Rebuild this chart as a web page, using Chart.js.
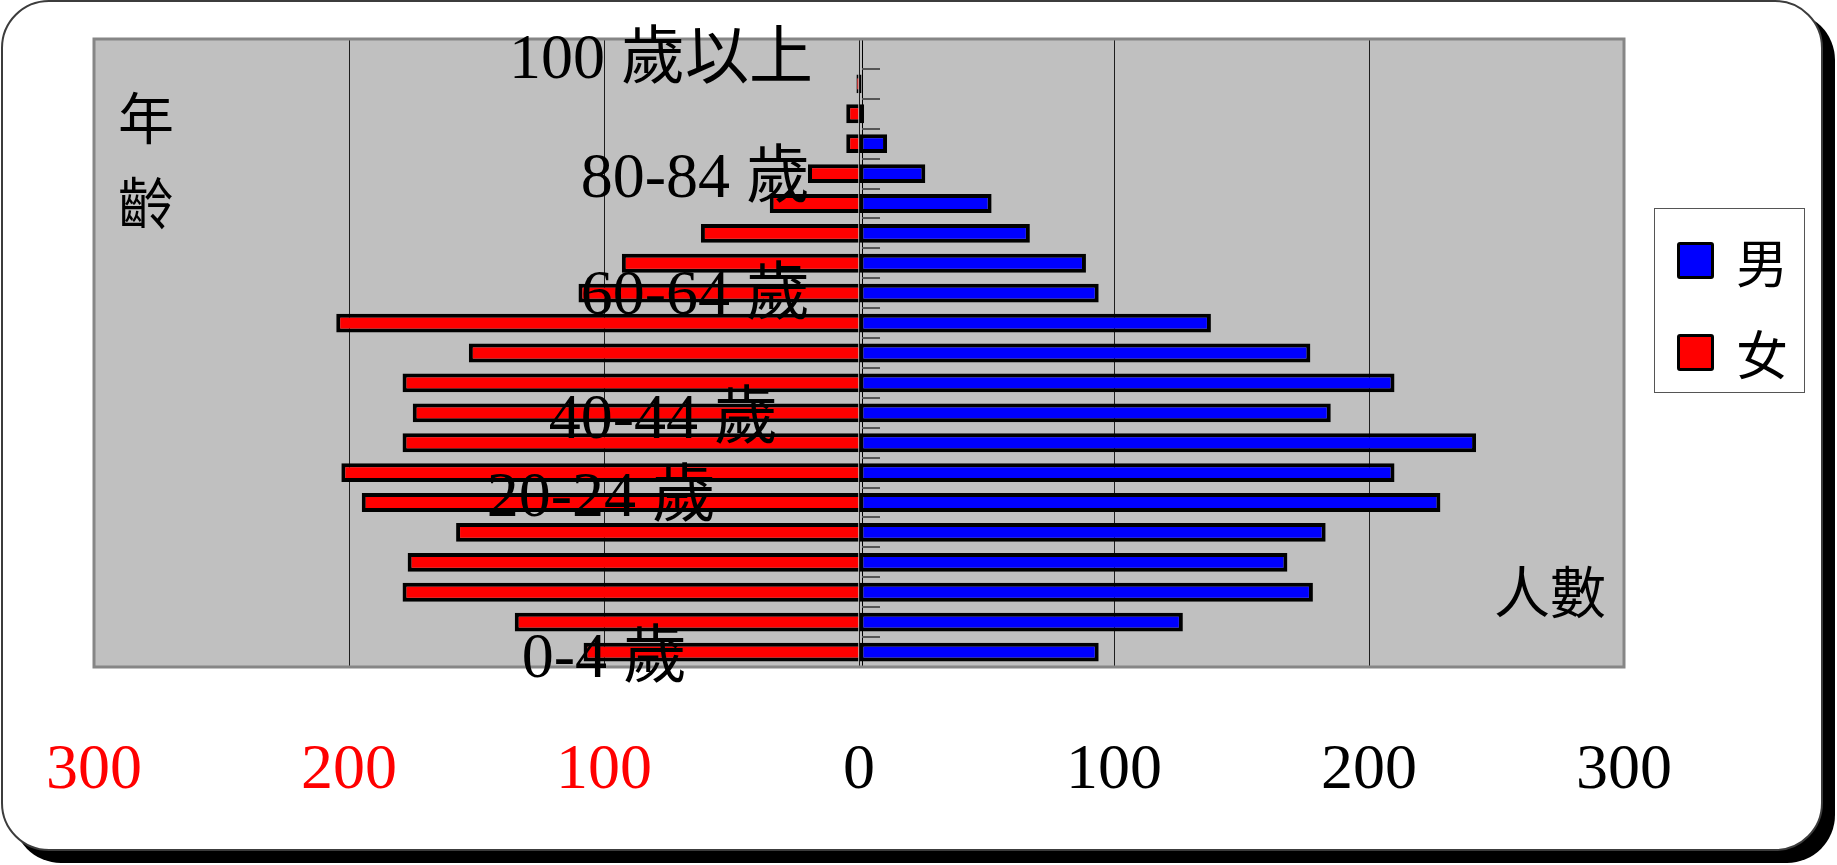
<!DOCTYPE html>
<html lang="zh-Hant">
<head>
<meta charset="utf-8">
<title>人口金字塔</title>
<script src="https://cdn.jsdelivr.net/npm/chart.js@4/dist/chart.umd.min.js"></script>
<style>
  html, body { margin: 0; padding: 0; background: #fff; }
  #stage { position: relative; width: 1837px; height: 865px; overflow: hidden; }
  #frame {
    position: absolute; left: 1px; top: 0; width: 1822px; height: 851px;
    box-sizing: border-box; border: 2px solid #3c3c3c; border-radius: 48px;
    box-shadow: 12px 12px 0 #000; background: #fff;
  }
  #chart { position: absolute; left: 0; top: 0; }
  .cjk { position: absolute; color: #000; font-family: "Noto Sans CJK TC", "Noto Sans CJK SC", sans-serif; }
  #ageTitle { left: 114px; top: 72px; width: 64px; font-size: 56px; line-height: 85px; text-align: center; }
  #countTitle { left: 1494px; top: 559px; font-size: 56px; line-height: 60px; white-space: nowrap; }
  #legend {
    left: 1654px; top: 208px; width: 151px; height: 185px; box-sizing: border-box;
    border: 1.5px solid #555; background: #fff; padding-top: 33px;
  }
  #legend .item { display: flex; align-items: center; height: 37px; margin-bottom: 55px; }
  #legend .swatch { width: 37px; height: 37px; margin-left: 22px; box-sizing: border-box; border: 3px solid #000; border-radius: 3px; }
  #legend .name { margin-left: 22px; font-size: 52px; line-height: 37px; }
</style>
</head>
<body>
<div id="stage">
  <div id="frame"></div>
  <canvas id="chart" width="1837" height="865"></canvas>
  <div id="ageTitle" class="cjk">年<br>齡</div>
  <div id="countTitle" class="cjk">人數</div>
  <div id="legend" class="cjk"></div>
</div>
<script>
// Age groups, youngest first (drawn bottom to top)
const ageGroups = [
  '0-4 歲', '5-9 歲', '10-14 歲', '15-19 歲', '20-24 歲', '25-29 歲', '30-34 歲',
  '35-39 歲', '40-44 歲', '45-49 歲', '50-54 歲', '55-59 歲', '60-64 歲', '65-69 歲',
  '70-74 歲', '75-79 歲', '80-84 歲', '85-89 歲', '90-94 歲', '95-99 歲', '100 歲以上'
];

// Population per age group
const maleCounts   = [94, 127, 178, 168, 183, 228, 210, 242, 185, 210, 177, 138, 94, 89, 67, 52, 26, 11, 2, 1, 0];
const femaleCounts = [108, 135, 179, 177, 158, 195, 203, 179, 175, 179, 153, 205, 110, 93, 62, 35, 20, 5, 5, 1, 0];

// Count axis ticks (left side = female, shown as absolute values)
const countTicks = [-300, -200, -100, 0, 100, 200, 300];

// Age groups that carry a label on the chart
const labelledGroups = [20, 16, 12, 8, 4, 0];

const seriesNames = ['男', '女'];
const seriesColors = ['#0000ff', '#ff0000'];

const LATIN = '"Liberation Serif", "Noto Sans CJK TC", serif';

// Plot background, frame, centre axis with its tick marks and the age labels
const pyramidDecor = {
  id: 'pyramidDecor',
  beforeDraw(chart, args, opts) {
    const { ctx, chartArea: a } = chart;
    ctx.save();
    ctx.fillStyle = opts.plotColor;
    ctx.fillRect(a.left, a.top, a.width, a.height);
    ctx.restore();
  },
  beforeDatasetsDraw(chart, args, opts) {
    const { ctx, chartArea: a, scales: { x, y } } = chart;
    const x0 = x.getPixelForValue(0);
    ctx.save();
    ctx.strokeStyle = '#000';
    ctx.lineWidth = 1;
    ctx.beginPath();
    ctx.moveTo(Math.round(x0) + 3.5, a.top);
    ctx.lineTo(Math.round(x0) + 3.5, a.bottom);
    ctx.stroke();
    ctx.strokeStyle = opts.tickColor;
    ctx.lineWidth = 2;
    ctx.beginPath();
    for (let i = 0; i <= ageGroups.length; i++) {
      const py = Math.round(y.getPixelForValue(i - 0.5));
      ctx.moveTo(x0 + 3, py);
      ctx.lineTo(x0 + 3 + opts.tickLength, py);
    }
    ctx.stroke();
    ctx.restore();
  },
  afterDatasetsDraw(chart, args, opts) {
    const { ctx, chartArea: a, scales: { x, y } } = chart;
    ctx.save();
    ctx.strokeStyle = opts.frameColor;
    ctx.lineWidth = 3;
    ctx.strokeRect(a.left, a.top, a.width, a.height);

    const x0 = x.getPixelForValue(0);
    ctx.fillStyle = '#000';
    ctx.font = opts.labelFont;
    ctx.textAlign = 'right';
    ctx.textBaseline = 'middle';
    labelledGroups.forEach((g, k) => {
      const shift = opts.labelShift[k];
      ctx.fillText(ageGroups[g], x0 + shift[0], y.getPixelForValue(g) + shift[1]);
    });
    ctx.restore();
  }
};

const chart = new Chart(document.getElementById('chart'), {
  type: 'bar',
  data: {
    labels: ageGroups,
    datasets: [
      {
        label: seriesNames[0],
        data: maleCounts,
        backgroundColor: seriesColors[0],
        borderColor: '#000',
        borderWidth: 4,
        borderSkipped: false
      },
      {
        label: seriesNames[1],
        data: femaleCounts.map(v => -v),
        backgroundColor: seriesColors[1],
        borderColor: '#000',
        borderWidth: 4,
        borderSkipped: 'start'
      }
    ]
  },
  options: {
    indexAxis: 'y',
    responsive: false,
    animation: false,
    devicePixelRatio: 1,
    barPercentage: 0.63,
    categoryPercentage: 1,
    layout: { padding: { left: 94, top: 39, right: 213, bottom: 35.7 } },
    scales: {
      x: {
        type: 'linear',
        stacked: true,
        min: -300,
        max: 300,
        afterBuildTicks: scale => { scale.ticks = countTicks.map(v => ({ value: v })); },
        grid: {
          drawTicks: true,
          tickLength: 45.5,
          tickColor: 'rgba(0,0,0,0)',
          lineWidth: 1,
          color: c => Math.abs(c.tick.value) === 300 ? 'rgba(0,0,0,0)' : '#1e1e1e'
        },
        border: { display: false },
        ticks: {
          padding: 20,
          maxRotation: 0,
          autoSkip: false,
          font: { family: LATIN, size: 64 },
          color: c => c.tick.value < 0 ? '#ff0000' : '#000000',
          callback: v => String(Math.abs(v))
        }
      },
      y: {
        type: 'category',
        stacked: true,
        reverse: true,
        display: false
      }
    },
    plugins: {
      legend: { display: false },
      tooltip: { enabled: false },
      pyramidDecor: {
        plotColor: '#c0c0c0',
        frameColor: '#868686',
        tickColor: '#555555',
        tickLength: 18,
        labelFont: '64px ' + LATIN,
        labelShift: [[-46, 7], [-49, 7], [-49, 4], [-81, 8], [-143, -33], [-172, 8]]
      }
    }
  },
  plugins: [pyramidDecor]
});

// Legend built from the chart's own datasets
const legendBox = document.getElementById('legend');
chart.data.datasets.forEach(ds => {
  const item = document.createElement('div');
  item.className = 'item';
  const sw = document.createElement('div');
  sw.className = 'swatch';
  sw.style.background = ds.backgroundColor;
  const name = document.createElement('span');
  name.className = 'name';
  name.textContent = ds.label;
  item.appendChild(sw);
  item.appendChild(name);
  legendBox.appendChild(item);
});
</script>
</body>
</html>
